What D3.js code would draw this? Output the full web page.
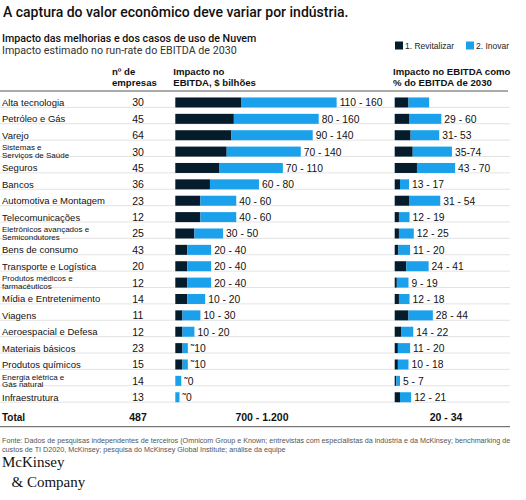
<!DOCTYPE html>
<html><head><meta charset="utf-8">
<script src="https://cdn.jsdelivr.net/npm/d3@7"></script>
<style>
body{margin:0;background:#fff;}
svg{display:block;font-family:"Liberation Sans",Arial,sans-serif;}
</style></head>
<body><svg id="c" width="526" height="500"></svg>
<script>
const industries = ["Alta tecnologia","Petróleo e Gás","Varejo","Sistemas e\nServiços de Saúde","Seguros","Bancos","Automotiva e Montagem","Telecomunicações","Eletrônicos avançados e\nSemicondutores","Bens de consumo","Transporte e Logística","Produtos médicos e\nfarmacêuticos","Mídia e Entretenimento","Viagens","Aeroespacial e Defesa","Materiais básicos","Produtos químicos","Energia elétrica e\nGás natural","Infraestrutura"];
const companies = [30,45,64,30,45,36,23,12,25,43,20,12,14,11,12,23,15,14,13];
const impactRevitalize = [55,49,47,43,37,29,21,21,16,10,10,10,10,6,6,6,6,0,0];
const impactInnovate = [80,71,68,62,53,41,30,30,24,20,20,20,15,15,10,4.5,4.5,5,3.5];
const impactLabels = ["110 - 160","80 - 160","90 - 140","70 - 140","70 - 110","60 - 80","40 - 60","40 - 60","30 - 50","20 - 40","20 - 40","20 - 40","10 - 20","10 - 30","10 - 20","˜10","˜10","˜0","˜0"];
const pctRevitalize = [13,14,15,17,21,5,14,4,4,3.5,11,2,4,13,6,3,3,1.5,5];
const pctInnovate = [19.5,30,27,37,36,8.5,29,10,14,11,21,11,10,23,11.5,11.5,10,3.5,10.5];
const pctLabels = ["","29 - 60","31- 53","35-74","43 - 70","13 - 17","31 - 54","12 - 19","12 - 25","11 - 20","24 - 41","9 - 19","12 - 18","28 - 44","14 - 22","11 - 20","10 - 18","5 - 7","12 - 21"];
const totalLabels = ["Total","487","700 - 1.200","20 - 34"];
const seriesNames = ["1. Revitalizar","2. Inovar"];
const colors = ["#051c2c","#1ba1ec"];

const svg = d3.select("#c");
const rows = industries.map((name,i)=>({name,i,n:companies[i],a:impactRevitalize[i],b:impactInnovate[i],la:impactLabels[i],pa:pctRevitalize[i],pb:pctInnovate[i],lp:pctLabels[i]}));

const y = d3.scaleBand().domain(d3.range(industries.length)).range([91, 408.7]).padding(0.4);
const step = y.step();
const xMid = d3.scaleLinear().domain([0,140]).range([175.3, 175.3+140*1.195]);
const xPct = d3.scaleLinear().domain([0,60]).range([394.7, 394.7+60*1.06]);
const txt = "#111";

// Title
svg.append("text").attr("x",3).attr("y",16.5).attr("font-size",14).attr("font-weight",500)
  .attr("font-family","Roboto, sans-serif").attr("fill",txt).text("A captura do valor econômico deve variar por indústria.");
svg.append("text").attr("x",2).attr("y",41.5).attr("font-size",10.7).attr("font-weight",500)
  .attr("font-family","Roboto, sans-serif").attr("fill",txt).text("Impacto das melhorias e dos casos de uso de Nuvem");
svg.append("text").attr("x",2).attr("y",54).attr("font-size",10.7)
  .attr("font-family","Roboto, sans-serif").attr("fill","#333").text("Impacto estimado no run-rate do EBITDA de 2030");

// Legend
const lg = svg.append("g");
[[395,0],[466,1]].forEach(([x,k])=>{
  lg.append("rect").attr("x",x).attr("y",41.5).attr("width",8).attr("height",8).attr("fill",colors[k]);
  lg.append("text").attr("x",x+10).attr("y",48.5).attr("font-size",8.5).attr("fill","#222").text(seriesNames[k]);
});

// Column headers
const hdr = (x, lines) => lines.forEach((t,j)=>svg.append("text").attr("x",x).attr("y",74.5+j*11.3)
  .attr("font-size",9.6).attr("font-weight",700).attr("fill",txt).text(t));
hdr(112,["nº de","empresas"]);
hdr(173.3,["Impacto no","EBITDA, $ bilhões"]);
hdr(393,["Impacto no EBITDA como","% do EBITDA de 2030"]);

// Separator lines
svg.append("line").attr("x1",0).attr("x2",508).attr("y1",91).attr("y2",91).attr("stroke","#555").attr("stroke-width",1);
d3.range(1, industries.length+1).forEach(k=>{
  const yy = 91 + k*step;
  svg.append("line").attr("x1",0).attr("x2",510).attr("y1",yy).attr("y2",yy).attr("stroke","#dcdcdc").attr("stroke-width",0.8);
});
svg.append("line").attr("x1",0).attr("x2",510).attr("y1",426.7).attr("y2",426.7).attr("stroke","#555").attr("stroke-width",1);

const g = svg.selectAll("g.row").data(rows).join("g").attr("class","row");
const cy = d => y(d.i) + y.bandwidth()/2;

// Category labels
g.each(function(d){
  const parts = d.name.split("\n");
  const t = d3.select(this).append("text").attr("x",2).attr("fill",txt);
  if(parts.length===1){
    t.attr("y",cy(d)+3.5).attr("font-size",9.5).text(parts[0]);
  } else {
    t.attr("font-size",8);
    parts.forEach((p,j)=>t.append("tspan").attr("x",2).attr("y",cy(d)-1.3+j*7.8).text(p));
  }
});
// Companies
g.append("text").attr("x",138).attr("y",d=>cy(d)+4).attr("text-anchor","middle").attr("font-size",10.5).attr("fill",txt).text(d=>d.n);

// Mid bars
const bh = 10;
g.append("rect").attr("x",xMid(0)).attr("y",d=>cy(d)-bh/2).attr("height",bh).attr("width",d=>xMid(d.a)-xMid(0)).attr("fill",colors[0]);
g.append("rect").attr("x",d=>xMid(d.a)).attr("y",d=>cy(d)-bh/2).attr("height",bh).attr("width",d=>xMid(d.a+d.b)-xMid(d.a)).attr("fill",colors[1]);
g.append("text").attr("x",d=>xMid(d.a+d.b)+3).attr("y",d=>cy(d)+4).attr("font-size",10.3).attr("fill",txt).text(d=>d.la);

// Pct bars
g.append("rect").attr("x",xPct(0)).attr("y",d=>cy(d)-bh/2).attr("height",bh).attr("width",d=>xPct(d.pa)-xPct(0)).attr("fill",colors[0]);
g.append("rect").attr("x",d=>xPct(d.pa)).attr("y",d=>cy(d)-bh/2).attr("height",bh).attr("width",d=>xPct(d.pa+d.pb)-xPct(d.pa)).attr("fill",colors[1]);
g.append("text").attr("x",d=>xPct(d.pa+d.pb)+3).attr("y",d=>cy(d)+4).attr("font-size",10.3).attr("fill",txt).text(d=>d.lp);

// Total row
const ty = 421;
svg.append("text").attr("x",2).attr("y",ty).attr("font-size",10).attr("font-weight",700).attr("fill",txt).text(totalLabels[0]);
svg.append("text").attr("x",138).attr("y",ty).attr("text-anchor","middle").attr("font-size",10.5).attr("font-weight",700).attr("fill",txt).text(totalLabels[1]);
svg.append("text").attr("x",262).attr("y",ty).attr("text-anchor","middle").attr("font-size",10.5).attr("font-weight",700).attr("fill",txt).text(totalLabels[2]);
svg.append("text").attr("x",446).attr("y",ty).attr("text-anchor","middle").attr("font-size",10.5).attr("font-weight",700).attr("fill",txt).text(totalLabels[3]);

// Footnote
const fn = ["Fonte: Dados de pesquisas independentes de terceiros (Omnicom Group e Known; entrevistas com especialistas da indústria e da McKinsey; benchmarking de",
            "custos de TI D2020, McKinsey; pesquisa do McKinsey Global Institute; análise da equipe"];
fn.forEach((t,j)=>svg.append("text").attr("x",2).attr("y",442.5+j*9.3).attr("font-size",7.2).attr("fill","#555").text(t));

// Logo
svg.append("text").attr("x",2).attr("y",466.7).attr("font-family","'Liberation Serif','DejaVu Serif',serif").attr("font-size",15).attr("fill","#111").text("McKinsey");
svg.append("text").attr("x",11.5).attr("y",486.7).attr("font-family","'Liberation Serif','DejaVu Serif',serif").attr("font-size",15).attr("fill","#111").text("& Company");
</script></body></html>
